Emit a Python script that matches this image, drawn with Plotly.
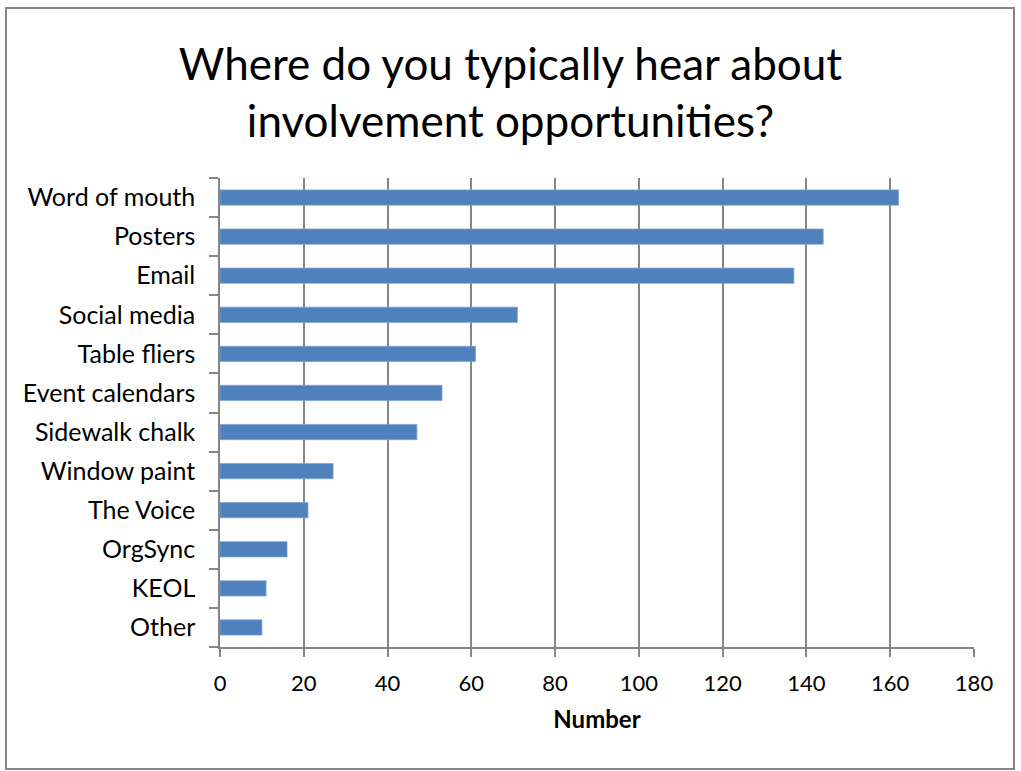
import plotly.graph_objects as go

# Survey responses: where students hear about involvement opportunities
categories = [
    "Word of mouth", "Posters", "Email", "Social media", "Table fliers",
    "Event calendars", "Sidewalk chalk", "Window paint", "The Voice",
    "OrgSync", "KEOL", "Other",
]
counts = [162, 144, 137, 71, 61, 53, 47, 27, 21, 16, 11, 10]
x_ticks = [0, 20, 40, 60, 80, 100, 120, 140, 160, 180]

W, H = 1021, 771
L, R, T, B = 220, 47, 178, 124
pw, ph = W - L - R, H - T - B

font_family = "Lato, 'Open Sans', sans-serif"
axis_grey = "#868686"

fig = go.Figure(
    go.Bar(
        y=categories,
        x=counts,
        orientation="h",
        marker=dict(color="#4F81BD", line=dict(color="#7FA3D3", width=0.8)),
    )
)

fig.update_layout(
    width=W,
    height=H,
    margin=dict(l=L, r=R, t=T, b=B),
    paper_bgcolor="white",
    plot_bgcolor="white",
    bargap=0.61,
    showlegend=False,
    font=dict(family=font_family, color="black"),
    title=dict(
        text="Where do you typically hear about<br>involvement opportunities?",
        x=0.5,
        xanchor="center",
        y=1 - 80 / H,
        yanchor="middle",
        font=dict(size=44, family=font_family, color="black"),
    ),
)

fig.update_xaxes(
    range=[0, 180],
    tickvals=x_ticks,
    ticktext=[str(v) for v in x_ticks],
    showgrid=True,
    gridcolor=axis_grey,
    gridwidth=1.5,
    showline=True,
    linecolor=axis_grey,
    linewidth=1.5,
    ticks="outside",
    ticklen=8,
    tickcolor=axis_grey,
    tickwidth=1.5,
    tickfont=dict(size=22, color="black"),
    ticklabelstandoff=8,
    zeroline=False,
    title=dict(text="<b>Number</b>", font=dict(size=24, color="black"), standoff=16),
)

fig.update_yaxes(
    categoryorder="array",
    categoryarray=categories[::-1],
    autorange=False,
    range=[-0.5, len(categories) - 0.5],
    showline=True,
    linecolor=axis_grey,
    linewidth=1.5,
    ticks="outside",
    ticklen=9,
    tickcolor=axis_grey,
    tickwidth=1.5,
    tickson="boundaries",
    showgrid=False,
    tickfont=dict(size=25, color="black"),
    ticklabelstandoff=18,
)

# Chart-area border around the whole figure
fig.add_shape(
    type="rect",
    xref="paper", yref="paper",
    x0=(6 - L) / pw, x1=(1014 - L) / pw,
    y0=(H - B - 769) / ph, y1=(H - B - 8) / ph,
    line=dict(color=axis_grey, width=2),
    fillcolor="rgba(0,0,0,0)",
    layer="below",
)

fig.write_html("out.html")
